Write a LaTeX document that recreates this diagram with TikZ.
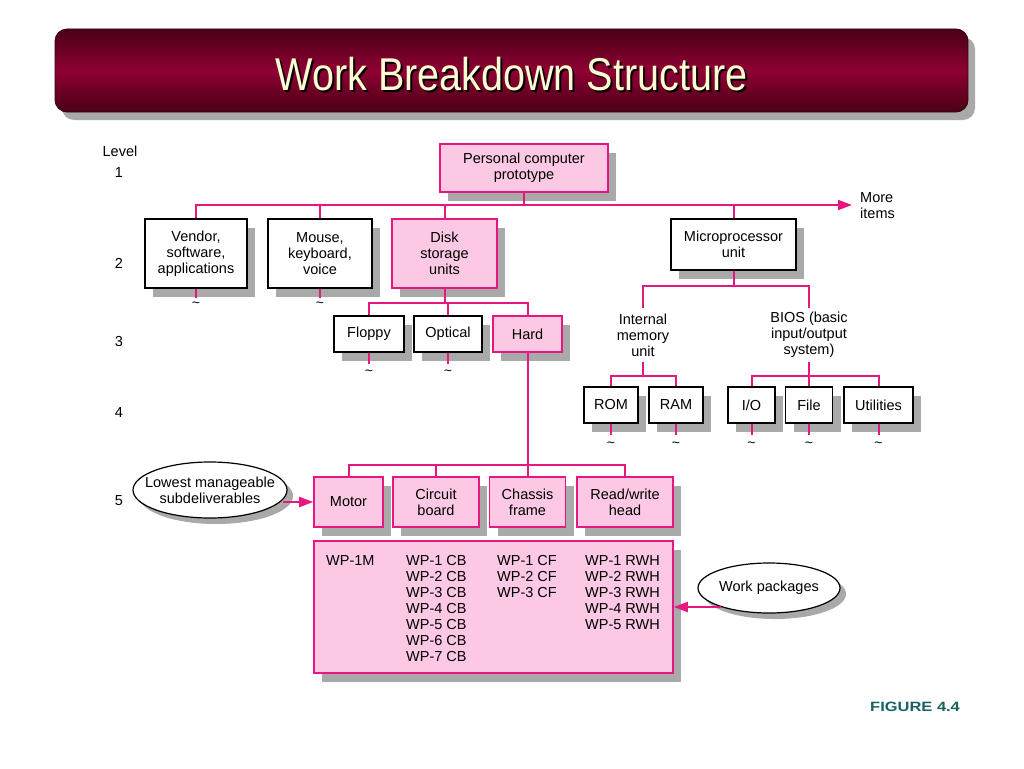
\documentclass[tikz,border=0pt]{standalone}
\usepackage{fontspec}
\usepackage{graphicx}
\setmainfont{Liberation Sans}
\usetikzlibrary{shapes.geometric,shadows,arrows.meta,calc}
\definecolor{mag}{HTML}{E6177F}
\definecolor{pinkfill}{HTML}{FCC8E4}
\definecolor{shgray}{HTML}{A9A9A9}
\definecolor{bartop}{HTML}{4A0016}
\definecolor{barmid}{HTML}{8E0033}
\definecolor{cream}{HTML}{FFFAD2}
\definecolor{figteal}{HTML}{1A6262}
\tikzset{
 lbl/.style={font=\fontsize{14.5}{16}\selectfont, align=center, inner sep=0pt},
 sh/.style={drop shadow={shadow xshift=8pt, shadow yshift=-9pt, fill=shgray, opacity=1}},
 pbox/.style={lbl, sh, draw=mag, fill=pinkfill, line width=1.6pt},
 wbox/.style={lbl, sh, draw=black, fill=white, line width=1.3pt},
 conn/.style={draw=mag, line width=2pt},
 arr/.style={-{Triangle[length=14pt,width=10pt]}},
 tild/.style={font=\fontsize{14}{14}\selectfont, inner sep=0pt},
 ell/.style={ellipse, draw=black, fill=white, line width=1.2pt, inner sep=0pt,
   drop shadow={shadow xshift=6pt, shadow yshift=-6pt, fill=shgray, opacity=1}},
}
\begin{document}
\begin{tikzpicture}[x=1pt,y=-1pt]
\path[use as bounding box, fill=white] (0,0) rectangle (1024,768);

% title bar
\node[rounded corners=12pt, minimum width=913pt, minimum height=83pt,
  top color=bartop, bottom color=bartop, middle color=barmid,
  draw=bartop!70!black, line width=0.8pt,
  drop shadow={shadow xshift=7pt, shadow yshift=-8pt, fill=shgray, opacity=1}]
  (bar) at (511.5,70.5) {};
\node[anchor=base, text=black, inner sep=0pt, font=\fontsize{46}{50}\selectfont]
  (tsh) at (513.5,92) {\scalebox{0.86}[1]{Work Breakdown Structure}};
\node[anchor=base, text=cream, inner sep=0pt, font=\fontsize{46}{50}\selectfont]
  (title) at (511.5,90) {\scalebox{0.86}[1]{Work Breakdown Structure}};

% level labels
\node[lbl] (lev) at (120,151) {Level};
\node[lbl] (l1) at (119,173) {1};
\node[lbl] (l2) at (119,263) {2};
\node[lbl] (l3) at (119,342) {3};
\node[lbl] (l4) at (119,413) {4};
\node[lbl] (l5) at (119,501) {5};

% level 1
\node[pbox, minimum width=168pt, minimum height=48pt] (pc) at (524,168) {Personal computer\\prototype};

% level 2
\node[wbox, minimum width=102pt, minimum height=69pt] (ven) at (196,253.5) {Vendor,\\software,\\applications};
\node[wbox, minimum width=104pt, minimum height=69pt] (mou) at (320,253.5) {Mouse,\\keyboard,\\voice};
\node[pbox, minimum width=105pt, minimum height=69pt] (dsk) at (444.5,253.5) {Disk\\storage\\units};
\node[wbox, minimum width=125pt, minimum height=51pt] (mic) at (733.5,244.5) {Microprocessor\\unit};

\coordinate (busR) at (852,205);
\draw[conn, arr] (ven.north) |- (busR);
\draw[conn] (mou.north) -- (mou.north |- busR);
\draw[conn] (dsk.north) -- (dsk.north |- busR);
\draw[conn] (mic.north) -- (mic.north |- busR);
\draw[conn] (pc.south) -- (pc.south |- busR);
\node[lbl, align=left, anchor=west] (more) at (860,206) {More\\items};

% tildes level 2
\draw[conn] (ven.south) -- ++(0,9);
\draw[conn] (mou.south) -- ++(0,9);
\node[tild] (tv) at (196,305) {\textasciitilde};
\node[tild] (tm) at (320,305) {\textasciitilde};

% level 3
\coordinate (b3) at (369,303);
\node[wbox, minimum width=70pt, minimum height=36pt] (flo) at (369,334) {Floppy};
\node[wbox, minimum width=68pt, minimum height=36pt] (opt) at (448,334) {Optical};
\node[pbox, minimum width=69pt, minimum height=36pt] (hrd) at (527.5,334) {Hard};
\draw[conn] (flo.north) -- (b3) -| (hrd.north);
\draw[conn] (opt.north) -- (opt.north |- b3);
\draw[conn] (dsk.south) -- (dsk.south |- b3);
\draw[conn] (flo.south) -- ++(0,11);
\draw[conn] (opt.south) -- ++(0,11);
\node[tild] (tf) at (369,373) {\textasciitilde};
\node[tild] (to) at (448,373) {\textasciitilde};

% microprocessor subtree
\coordinate (bm) at (643,286);
\node[lbl, minimum height=54pt] (mem) at (643,335) {Internal\\memory\\unit};
\node[lbl, minimum height=54pt] (bio) at (809,335) {BIOS (basic\\input/output\\system)};
\draw[conn] (mem.north) -- (bm) -| (bio.north);
\draw[conn] (mic.south) -- (mic.south |- bm);

% level 4
\node[wbox, minimum width=54pt, minimum height=36pt] (rom) at (611,405) {ROM};
\node[wbox, minimum width=54pt, minimum height=36pt] (ram) at (676,405) {RAM};
\node[wbox, minimum width=47pt, minimum height=36pt] (io) at (751.5,405) {I/O};
\node[wbox, minimum width=47pt, minimum height=36pt] (fil) at (809,405) {File};
\node[wbox, minimum width=69pt, minimum height=36pt] (uti) at (878.5,405) {Utilities};
\coordinate (b4) at (611,376);
\coordinate (b4b) at (751.5,376);
\draw[conn] (rom.north) -- (b4) -| (ram.north);
\draw[conn] (mem.south) -- (mem.south |- b4);
\draw[conn] (io.north) -- (b4b) -| (uti.north);
\draw[conn] (bio.south) -- (fil.north);
\foreach \n in {rom,ram,io,fil,uti}{\draw[conn] (\n.south) -- ++(0,11);}
\node[tild] (t4a) at (611,445) {\textasciitilde};
\node[tild] (t4b) at (676,445) {\textasciitilde};
\node[tild] (t4c) at (751.5,445) {\textasciitilde};
\node[tild] (t4d) at (809,445) {\textasciitilde};
\node[tild] (t4e) at (878.5,445) {\textasciitilde};

% level 5
\node[pbox, minimum width=69pt, minimum height=50pt] (mot) at (348.5,502) {Motor};
\node[pbox, minimum width=86pt, minimum height=50pt] (cir) at (436,502) {Circuit\\board};
\node[pbox, minimum width=76pt, minimum height=50pt] (cha) at (527.5,502) {Chassis\\frame};
\node[pbox, minimum width=96pt, minimum height=50pt] (rw) at (625,502) {Read/write\\head};
\coordinate (b5) at (348.5,465);
\draw[conn] (mot.north) -- (b5) -| (rw.north);
\draw[conn] (cir.north) -- (cir.north |- b5);
\draw[conn] (hrd.south) -- (cha.north);

% work packages box
\node[pbox, minimum width=359pt, minimum height=132pt] (wp) at (493.5,607) {};
\node[lbl, align=left, anchor=north west] (c1) at (326,555) {WP-1M};
\node[lbl, align=left, anchor=north west] (c2) at (406,555) {WP-1 CB\\WP-2 CB\\WP-3 CB\\WP-4 CB\\WP-5 CB\\WP-6 CB\\WP-7 CB};
\node[lbl, align=left, anchor=north west] (c3) at (497,555) {WP-1 CF\\WP-2 CF\\WP-3 CF};
\node[lbl, align=left, anchor=north west] (c4) at (585,555) {WP-1 RWH\\WP-2 RWH\\WP-3 RWH\\WP-4 RWH\\WP-5 RWH};

% callout ellipses
\node[ell, minimum width=154pt, minimum height=56pt] (e1) at (210,490) {};
\node[lbl] (e1t) at (e1) {Lowest manageable\\subdeliverables};
\node[ell, minimum width=142pt, minimum height=50pt] (e2) at (769,588) {};
\node[lbl] (e2t) at (e2) {Work packages};
\draw[conn, arr] ([xshift=-5pt]e1.east |- mot.west) -- (mot.west);
\draw[conn, arr] ([xshift=24pt]e2.west |- wp.east) -- (wp.east);

% figure label
\node[anchor=west, inner sep=0pt, text=figteal, font=\bfseries\fontsize{13.5}{14}\selectfont]
  (fig) at (870,707) {\scalebox{1.22}[1]{FIGURE 4.4}};
\end{tikzpicture}
\end{document}
